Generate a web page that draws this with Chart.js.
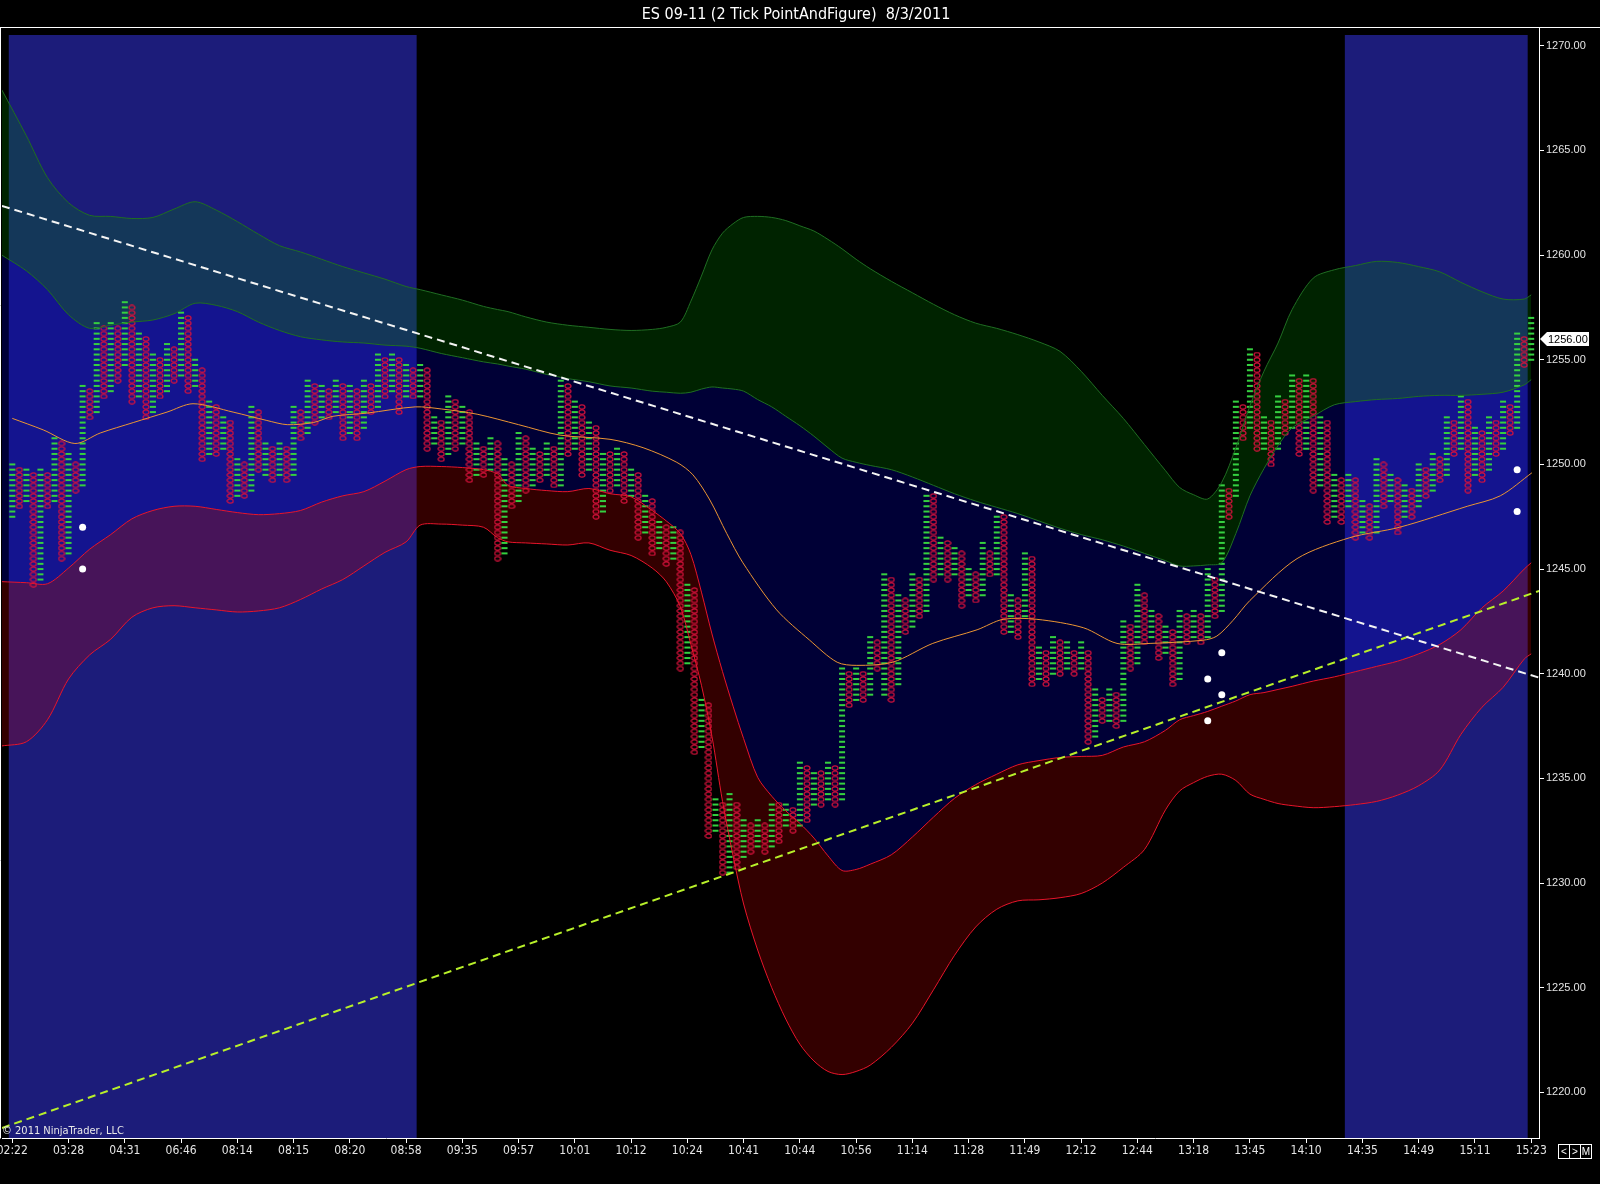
<!DOCTYPE html>
<html>
<head>
<meta charset="utf-8">
<title>ES 09-11 (2 Tick PointAndFigure) 8/3/2011</title>
<script src="https://cdn.jsdelivr.net/npm/chart.js@4.4.0/dist/chart.umd.min.js"></script>
<style>
	html, body { margin: 0; padding: 0; background: #000; }
	#wrap { position: relative; width: 1600px; height: 1184px; overflow: hidden; background: #000; }
	#chart { position: absolute; left: 0; top: 0; }
	.title { position: absolute; top: 4px; left: 0; width: 1592px; text-align: center; color: #fff; white-space: pre;
		font: 16px "Liberation Sans Narrow", "Arial Narrow", "DejaVu Sans Condensed", sans-serif; }
	.copy { position: absolute; left: 2px; top: 1124px; color: #e8e8e8;
		font: 11px "Liberation Sans Narrow", "Arial Narrow", "DejaVu Sans Condensed", sans-serif; }
	.nav { position: absolute; top: 1144px; left: 1558px; display: flex; }
	.nav span { display: block; width: 10px; height: 13px; border: 1px solid #fff; margin-right: -1px; color: #fff; text-align: center;
		font: 10px/13px "Liberation Sans", Arial, sans-serif; }
</style>
</head>
<body>
<div id="wrap">
	<canvas id="chart" width="1600" height="1184"></canvas>
	<div class="title">ES 09-11 (2 Tick PointAndFigure)  8/3/2011</div>
	<div class="copy">© 2011 NinjaTrader, LLC</div>
	<div class="nav"><span>&lt;</span><span>&gt;</span><span>M</span></div>
</div>
<script>
// time labels, one every 8 columns
const timeLabels = ['02:22', '03:28', '04:31', '06:46', '08:14', '08:15', '08:20', '08:58', '09:35', '09:57',
	'10:01', '10:12', '10:24', '10:41', '10:44', '10:56', '11:14', '11:28', '11:49', '12:12',
	'12:44', '13:18', '13:45', '14:10', '14:35', '14:49', '15:11', '15:23'];
const labelEvery = 8;
const yTicks = [1220, 1225, 1230, 1235, 1240, 1245, 1250, 1255, 1260, 1265, 1270];
const boxSize = 0.25;
const lastPrice = 1256.00;

// point & figure columns (even index = X column, odd = O column)
const colLow = [
	1247.5, 1248, 1248.25, 1244.25, 1244.5, 1248, 1248.25, 1245.5, 1245.75, 1248.75,
	1249, 1252.25, 1252.5, 1253.25, 1253.5, 1254, 1254.75, 1253, 1253.25, 1252.25,
	1252.5, 1253.25, 1253.5, 1254, 1254.25, 1253.5, 1253.75, 1250.25, 1250.5, 1250.5,
	1250.75, 1248.25, 1248.5, 1248.5, 1248.75, 1249.75, 1249.5, 1249.25, 1249.5, 1249.25,
	1249.5, 1251.25, 1251.5, 1252, 1252.25, 1252.25, 1252.5, 1251.25, 1251.5, 1251.25,
	1251.75, 1252.5, 1252.75, 1253.25, 1253.5, 1252.5, 1253.25, 1253.25, 1253.25, 1250.75,
	1251, 1250.25, 1250.5, 1250.75, 1251, 1249.25, 1249.5, 1249.5, 1249.75, 1245.5,
	1245.75, 1248, 1248.25, 1248.75, 1249, 1249.25, 1249.5, 1249, 1249, 1250.5,
	1250.75, 1249.5, 1249.75, 1247.5, 1247.75, 1248.75, 1249, 1248.25, 1248.5, 1246.5,
	1246.75, 1245.75, 1246, 1245.25, 1245.5, 1240.25, 1240.5, 1236.25, 1236.5, 1232.25,
	1232.5, 1230.5, 1230.5, 1230.75, 1231.25, 1231.5, 1231.75, 1231.5, 1231.75, 1232,
	1232.75, 1232.5, 1232.75, 1233, 1233.75, 1233.75, 1234, 1233.75, 1234, 1238.5,
	1238.75, 1238.75, 1239, 1240.25, 1239, 1238.75, 1239.5, 1242, 1242.25, 1242.75,
	1243, 1244.5, 1244.75, 1244.5, 1244.75, 1243.25, 1243.75, 1243.5, 1243.75, 1244.75,
	1244.75, 1242, 1242, 1241.75, 1242.75, 1239.5, 1239.75, 1239.5, 1240, 1240,
	1240.25, 1240, 1240.25, 1236.75, 1237, 1237.75, 1237.75, 1237.5, 1237.75, 1240.25,
	1240.5, 1241.5, 1241.75, 1240.75, 1241, 1239.5, 1239.75, 1241.5, 1241.75, 1241.5,
	1241.75, 1242.75, 1243, 1247.5, 1248.5, 1251.25, 1251.75, 1250.75, 1250.75, 1250,
	1250.75, 1251.5, 1251.75, 1250.5, 1250.75, 1248.75, 1249, 1247.25, 1247.5, 1247.25,
	1248, 1246.5, 1246.75, 1246.5, 1246.75, 1248, 1248.25, 1246.75, 1247.5, 1247.5,
	1248, 1248.5, 1248.75, 1249.25, 1249.5, 1250.5, 1250.75, 1248.75, 1249.5, 1249.25,
	1249.75, 1250.5, 1250.75, 1251.5, 1251.75, 1254.75, 1255
];
const colHigh = [
	1250, 1249.75, 1249.75, 1249.5, 1249.75, 1249.5, 1251.25, 1251, 1250.5, 1250,
	1253.75, 1253.5, 1256.75, 1256.5, 1256.75, 1256.5, 1257.75, 1257.5, 1256.25, 1256,
	1255.25, 1255, 1255.75, 1255.5, 1257.25, 1257, 1255, 1254.5, 1253, 1252.75,
	1252.25, 1252, 1250.25, 1250, 1252.75, 1252.5, 1251, 1250.75, 1251, 1250.75,
	1252.75, 1252.5, 1254, 1253.75, 1253.75, 1253.5, 1254, 1253.75, 1253.75, 1253.5,
	1254, 1253.75, 1255.25, 1255, 1255.25, 1255, 1254.75, 1254.5, 1254.75, 1254.5,
	1252.25, 1252, 1253.25, 1253, 1252.75, 1252.5, 1251, 1250.75, 1251.25, 1251,
	1250.25, 1250, 1251.5, 1251.25, 1250.75, 1250.5, 1251, 1250.75, 1254, 1253.75,
	1253, 1252.75, 1252, 1251.75, 1250.5, 1250.5, 1250.75, 1250.5, 1249.75, 1249.5,
	1248.5, 1248.25, 1247.25, 1247, 1247, 1246.75, 1244.25, 1244, 1238.75, 1238.5,
	1234, 1233.75, 1234.25, 1233.75, 1233, 1232.75, 1233, 1232.75, 1233.75, 1233.75,
	1233.75, 1233.5, 1235.75, 1235.5, 1235.25, 1235.25, 1235.75, 1235.5, 1240.25, 1240,
	1240.25, 1240, 1241.75, 1241.5, 1244.75, 1244.5, 1243.75, 1243.5, 1244.75, 1244.5,
	1248.5, 1248.5, 1246.5, 1246.25, 1246, 1245.75, 1245, 1244.75, 1246.25, 1245.75,
	1247.5, 1247.5, 1243.75, 1243.5, 1245.75, 1245.5, 1241.25, 1241, 1241.75, 1241.5,
	1241.5, 1241, 1241.5, 1241, 1239.25, 1238.75, 1239.25, 1239, 1242.5, 1242.25,
	1244.25, 1243.75, 1243, 1242.75, 1242.25, 1242, 1243, 1242.75, 1243, 1242.75,
	1245, 1244.5, 1249, 1248.75, 1253, 1252.75, 1255.5, 1255.25, 1252.25, 1252,
	1253.25, 1253, 1254.25, 1254, 1254.25, 1254, 1252.25, 1252, 1249.5, 1249.25,
	1249.5, 1249.25, 1248.25, 1248, 1250.25, 1250, 1249.5, 1249.25, 1249, 1248.75,
	1250, 1249.75, 1250.5, 1250.25, 1252.25, 1252, 1253.25, 1253, 1251.75, 1251.5,
	1252.25, 1252, 1253, 1252.75, 1256.25, 1256, 1257
];

// columns with the session (blue) background
const sessionRanges = [[0, 57], [190, 215]];

// envelope bands, read at these column positions
const bandIdx = [-1.5, 2, 5, 8, 11, 14, 17, 20, 23, 26, 29, 32, 35, 38, 41, 44, 47, 50, 53, 56,
	58, 61, 64, 67, 69, 70.5, 73, 76, 79, 82, 85, 88, 91, 93, 95, 96.5, 98, 99.5, 101, 102.5,
	104, 106, 108, 110, 112, 114, 116, 118, 120, 122, 125, 128, 131, 134, 137, 140, 143, 146, 149, 152,
	155, 158, 161, 164, 166, 168, 170, 172, 174, 176, 178, 180, 182, 185, 188, 191, 194, 197, 200, 203,
	206, 209, 212, 215, 216];
const upperTop = [1267.9, 1265.7, 1263.7, 1262.5, 1261.9, 1261.85, 1261.75, 1261.8, 1262.2, 1262.55,
	1262.15, 1261.6, 1261.0, 1260.45, 1260.15, 1259.8, 1259.45, 1259.15, 1258.85, 1258.5,
	1258.35, 1258.1, 1257.85, 1257.55, 1257.4, 1257.3, 1257.05, 1256.8, 1256.65, 1256.55,
	1256.45, 1256.4, 1256.45, 1256.55, 1256.8, 1257.8, 1259.0, 1260.25, 1261.05, 1261.5,
	1261.8, 1261.85, 1261.8, 1261.65, 1261.4, 1261.15, 1260.75, 1260.3, 1259.8, 1259.35,
	1258.75, 1258.2, 1257.65, 1257.15, 1256.75, 1256.5, 1256.2, 1255.85, 1255.4, 1254.45,
	1253.3, 1252.2, 1250.95, 1249.7, 1248.9, 1248.55, 1248.35, 1249.15, 1250.8, 1252.8,
	1254.45, 1255.8, 1257.4, 1258.9, 1259.3, 1259.5, 1259.7, 1259.65, 1259.45, 1259.2,
	1258.7, 1258.25, 1257.9, 1257.9, 1258.1];
const upperBot = [1260.0, 1259.25, 1258.35, 1257.15, 1256.5, 1256.65, 1256.8, 1256.9, 1257.2, 1257.7,
	1257.6, 1257.3, 1256.8, 1256.4, 1256.1, 1255.95, 1255.85, 1255.8, 1255.7, 1255.65,
	1255.55, 1255.3, 1255.1, 1254.9, 1254.8, 1254.7, 1254.55, 1254.3, 1254.1, 1253.95,
	1253.75, 1253.65, 1253.5, 1253.45, 1253.4, 1253.45, 1253.6, 1253.7, 1253.65, 1253.6,
	1253.5, 1253.1, 1252.75, 1252.3, 1251.85, 1251.35, 1250.8, 1250.3, 1250.1, 1249.95,
	1249.75, 1249.4, 1249.0, 1248.6, 1248.25, 1247.95, 1247.65, 1247.3, 1246.95, 1246.65,
	1246.4, 1246.1, 1245.75, 1245.4, 1245.15, 1245.15, 1245.2, 1245.3, 1246.7, 1248.5,
	1249.8, 1250.9, 1251.75, 1252.3, 1252.85, 1253.0, 1253.1, 1253.15, 1253.25, 1253.3,
	1253.3, 1253.35, 1253.45, 1253.8, 1254.05];
const lowerTop = [1244.4, 1244.35, 1244.3, 1245.05, 1245.95, 1246.65, 1247.4, 1247.8, 1248.0, 1248.0,
	1247.85, 1247.7, 1247.6, 1247.65, 1247.8, 1248.2, 1248.5, 1248.7, 1249.2, 1249.75,
	1249.9, 1249.9, 1249.85, 1249.75, 1249.55, 1249.0, 1248.85, 1248.75, 1248.7, 1248.85,
	1248.6, 1248.45, 1247.8, 1247.3, 1246.7, 1245.7, 1243.9, 1241.9, 1240.1, 1238.45,
	1236.9, 1235.05, 1234.15, 1233.45, 1232.85, 1232.15, 1231.3, 1230.6, 1230.65, 1230.9,
	1231.35, 1232.2, 1233.15, 1234.05, 1234.7, 1235.2, 1235.65, 1235.85, 1236.0, 1236.05,
	1236.1, 1236.5, 1236.75, 1237.3, 1237.8, 1238.0, 1238.2, 1238.45, 1238.7, 1239.0,
	1239.1, 1239.25, 1239.4, 1239.65, 1239.85, 1240.1, 1240.35, 1240.6, 1240.95, 1241.4,
	1242.1, 1243.15, 1243.95, 1245.0, 1245.3];
const lowerBot = [1236.55, 1236.75, 1237.8, 1239.75, 1240.9, 1241.65, 1242.7, 1243.15, 1243.25, 1243.15,
	1243.05, 1242.95, 1243.0, 1243.15, 1243.55, 1244.05, 1244.5, 1245.15, 1245.8, 1246.3,
	1247.1, 1247.15, 1247.1, 1247.0, 1246.5, 1246.3, 1246.25, 1246.2, 1246.15, 1246.25,
	1245.9, 1245.65, 1245.05, 1244.4, 1243.2, 1241.4, 1239.45, 1237.0, 1233.9, 1231.3,
	1229.0, 1226.8, 1225.0, 1223.5, 1222.3, 1221.5, 1221.0, 1220.85, 1221.0, 1221.3,
	1222.15, 1223.3, 1224.9, 1226.55, 1227.9, 1228.75, 1229.15, 1229.2, 1229.3, 1229.5,
	1230.0, 1230.75, 1231.6, 1233.5, 1234.4, 1234.8, 1235.1, 1235.2, 1234.9, 1234.25,
	1234.0, 1233.8, 1233.7, 1233.6, 1233.65, 1233.75, 1233.9, 1234.2, 1234.65, 1235.4,
	1237.1, 1238.4, 1239.35, 1240.7, 1240.95];

// moving average (orange)
const midIdx = [0, 4.4, 8.9, 12.5, 17.2, 22, 25.7, 31.4, 36.2, 39.1, 42.8, 45.6, 50.4, 57.3, 61, 66.1,
	72, 77.9, 85, 89.7, 94.5, 96.8, 99.2, 101.6, 103.9, 108.7, 113.4, 117.3, 120.1, 125.2, 130.9, 137.2,
	140.9, 145.7, 152.3, 157.1, 161.8, 169.3, 171.3, 173.6, 176, 182.7, 190.2, 197.3, 206.9, 211.6, 216.1];
const midVal = [1252.2, 1251.65, 1251.0, 1251.5, 1252.0, 1252.5, 1252.9, 1252.5, 1252.1, 1251.9, 1252.0,
	1252.3, 1252.45, 1252.75, 1252.65, 1252.4, 1251.9, 1251.4, 1251.2, 1250.8, 1250.1, 1249.5, 1248.3,
	1246.7, 1245.3, 1243.05, 1241.6, 1240.55, 1240.4, 1240.55, 1241.45, 1242.1, 1242.6, 1242.6, 1242.2,
	1241.45, 1241.45, 1241.6, 1241.8, 1242.55, 1243.5, 1245.5, 1246.5, 1247.0, 1248.0, 1248.5, 1249.6];

// trend lines (two end points each)
const trendWhiteX = [-1.47, 217.25];
const trendWhiteY = [1262.35, 1239.8];
const trendGreenX = [-1.47, 217.25];
const trendGreenY = [1218.3, 1243.97];

// white dots
const dotIdx = [10, 10, 170, 170, 172, 172, 214, 214];
const dotVal = [1247.0, 1245.0, 1239.75, 1237.75, 1241.0, 1239.0, 1249.75, 1247.75];

document.addEventListener('DOMContentLoaded', () => {
	const pts = (xs, ys) => xs.map((x, i) => ({ x: x, y: ys[i] }));

	const xMarks = [];
	const oMarks = [];
	colLow.forEach((lo, i) => {
		const target = i % 2 === 0 ? xMarks : oMarks;
		for (let v = lo; v <= colHigh[i] + 1e-6; v += boxSize) {
			target.push({ x: i, y: v });
		}
	});

	// small ellipse used for the O boxes
	const oShape = document.createElement('canvas');
	oShape.width = 8;
	oShape.height = 6;
	const g = oShape.getContext('2d');
	g.strokeStyle = '#d8123c';
	g.lineWidth = 1.2;
	g.beginPath();
	g.ellipse(4, 3, 3, 2.1, 0, 0, Math.PI * 2);
	g.stroke();

	const sessionPlugin = {
		id: 'sessions',
		beforeDraw(chart) {
			const { ctx, chartArea, scales } = chart;
			ctx.save();
			ctx.fillStyle = '#000';
			ctx.fillRect(0, 0, chart.width, chart.height);
			ctx.fillStyle = '#1c1c7a';
			sessionRanges.forEach(r => {
				const a = scales.x.getPixelForValue(r[0] - 0.5);
				const b = scales.x.getPixelForValue(r[1] + 0.5);
				ctx.fillRect(a, chartArea.top, b - a, chartArea.bottom - chartArea.top);
			});
			ctx.restore();
		}
	};

	const framePlugin = {
		id: 'frame',
		afterDraw(chart) {
			const { ctx, chartArea, scales } = chart;
			ctx.save();
			ctx.strokeStyle = '#fff';
			ctx.lineWidth = 1;
			ctx.beginPath();
			ctx.moveTo(0, 27.5);
			ctx.lineTo(chart.width, 27.5);
			ctx.moveTo(0.5, 27.5);
			ctx.lineTo(0.5, chartArea.bottom + 0.5);
			ctx.moveTo(chartArea.right + 0.5, 27.5);
			ctx.lineTo(chartArea.right + 0.5, chartArea.top);
			ctx.stroke();

			// last price marker
			const y = Math.round(scales.y.getPixelForValue(lastPrice));
			const x0 = chartArea.right + 1;
			ctx.fillStyle = '#fff';
			ctx.beginPath();
			ctx.moveTo(x0, y);
			ctx.lineTo(x0 + 7, y - 7);
			ctx.lineTo(x0 + 49, y - 7);
			ctx.lineTo(x0 + 49, y + 7);
			ctx.lineTo(x0 + 7, y + 7);
			ctx.closePath();
			ctx.fill();
			ctx.fillStyle = '#000';
			ctx.font = '11px "Liberation Sans", Arial, sans-serif';
			ctx.textBaseline = 'middle';
			ctx.fillText(lastPrice.toFixed(2), x0 + 8, y + 1);
			ctx.restore();
		}
	};

	const lineSet = (data, color, fill, bg) => ({
		data: data,
		showLine: true,
		borderColor: color,
		borderWidth: 1,
		pointRadius: 0,
		tension: 0.3,
		fill: fill,
		backgroundColor: bg,
		order: 10
	});

	new Chart(document.getElementById('chart'), {
		type: 'scatter',
		data: {
			datasets: [
				lineSet(pts(bandIdx, upperTop), '#1f6e22', '+1', 'rgba(0, 130, 0, 0.27)'),
				lineSet(pts(bandIdx, upperBot), '#1f6e22', '+1', 'rgba(0, 0, 200, 0.27)'),
				lineSet(pts(bandIdx, lowerTop), '#e8142a', '+1', 'rgba(190, 0, 0, 0.27)'),
				lineSet(pts(bandIdx, lowerBot), '#e8142a', false, 'transparent'),
				Object.assign(lineSet(pts(midIdx, midVal), '#eb9533', false, 'transparent'), { order: 5 }),
				{
					data: pts(trendWhiteX, trendWhiteY), showLine: true, borderColor: '#f4f4f4', borderWidth: 2,
					borderDash: [8, 5], pointRadius: 0, fill: false, order: 2
				},
				{
					data: pts(trendGreenX, trendGreenY), showLine: true, borderColor: '#b8f02a', borderWidth: 2,
					borderDash: [8, 5], pointRadius: 0, fill: false, order: 2
				},
				{
					data: xMarks, pointStyle: 'line', pointRadius: 3, pointBorderWidth: 2,
					pointBorderColor: '#35d040', borderColor: '#35d040', order: 20
				},
				{
					data: oMarks, pointStyle: oShape, pointRadius: 3, order: 20
				},
				{
					data: pts(dotIdx, dotVal), pointStyle: 'circle', pointRadius: 3.5, pointBorderWidth: 0,
					pointBackgroundColor: '#fff', order: 1
				}
			]
		},
		options: {
			responsive: false,
			animation: false,
			devicePixelRatio: 1,
			events: [],
			layout: { autoPadding: false, padding: { top: 35, left: 2, right: 0, bottom: 0 } },
			plugins: {
				legend: { display: false },
				tooltip: { enabled: false },
				filler: { drawTime: 'beforeDatasetsDraw' }
			},
			scales: {
				x: {
					type: 'linear',
					position: 'bottom',
					min: -1.465,
					max: 217.11,
					afterFit: s => { s.height = 46; s.paddingLeft = 0; s.paddingRight = 0; },
					afterBuildTicks: s => { s.ticks = timeLabels.map((t, i) => ({ value: i * labelEvery })); },
					ticks: {
						autoSkip: false,
						maxRotation: 0,
						padding: 1,
						color: '#e4e4e4',
						font: { family: '"Liberation Sans Narrow", "Arial Narrow", "DejaVu Sans Condensed", sans-serif', size: 12 },
						callback: (v, i) => timeLabels[i]
					},
					grid: { drawOnChartArea: false, color: '#fff', tickLength: 5 },
					border: { display: true, color: '#fff' }
				},
				y: {
					type: 'linear',
					position: 'right',
					min: 1217.82,
					max: 1270.516,
					afterFit: s => { s.width = 61; s.paddingTop = 0; s.paddingBottom = 0; },
					afterBuildTicks: s => { s.ticks = yTicks.map(v => ({ value: v })); },
					ticks: {
						padding: 2,
						color: '#e4e4e4',
						font: { family: '"Liberation Sans", Arial, sans-serif', size: 11 },
						callback: v => v.toFixed(2)
					},
					grid: { drawOnChartArea: false, color: '#fff', tickLength: 5 },
					border: { display: true, color: '#fff' }
				}
			}
		},
		plugins: [sessionPlugin, framePlugin]
	});
});
</script>
</body>
</html>
